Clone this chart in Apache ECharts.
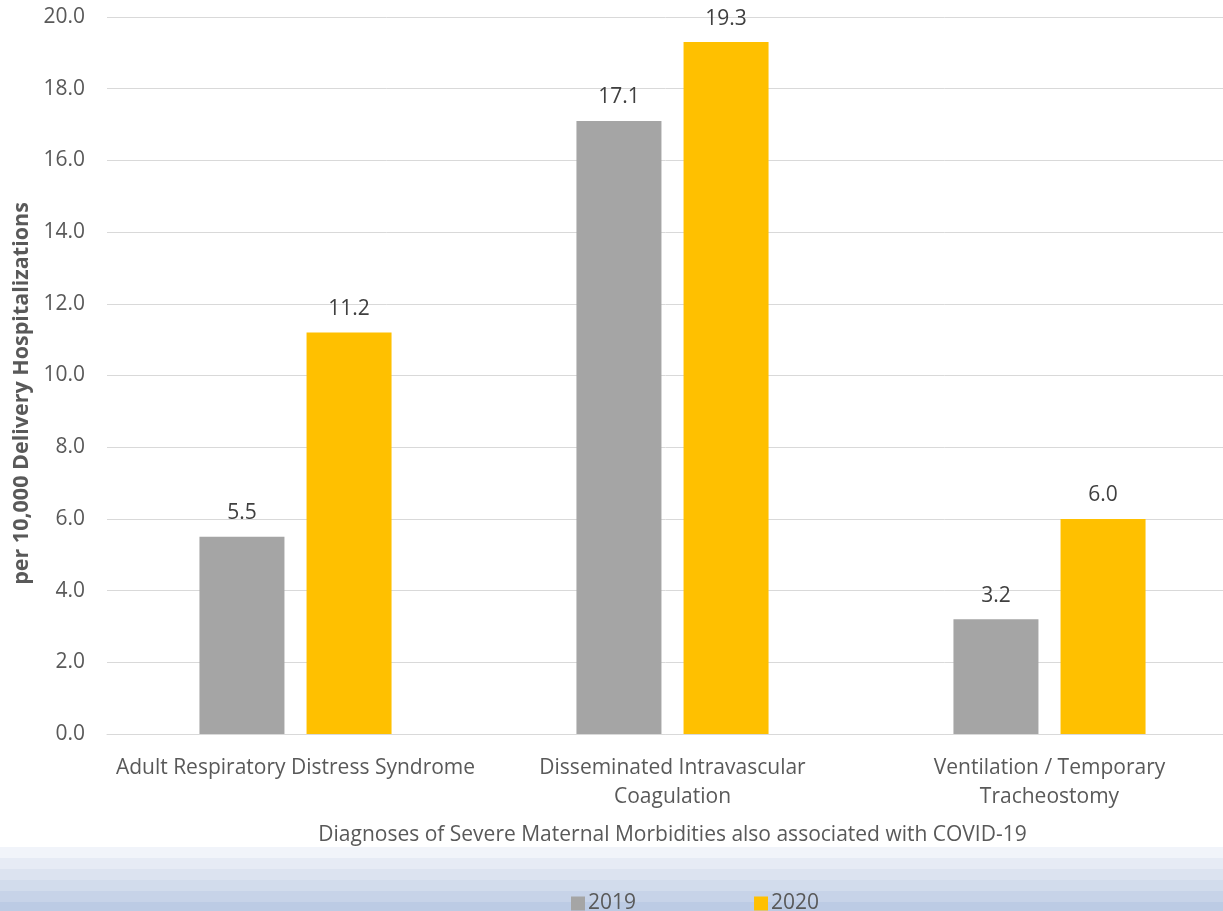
<!DOCTYPE html>
<html>
<head>
<meta charset="utf-8">
<script src="https://cdn.jsdelivr.net/npm/echarts@6/dist/echarts.min.js"></script>
<style>
  html, body { margin: 0; padding: 0; background: #ffffff; }
  #chart { width: 1223px; height: 911px; }
</style>
</head>
<body>
<div id="chart"></div>
<script>
// Severe maternal morbidity diagnoses, rate per 10,000 delivery hospitalizations
const categories = [
  'Adult Respiratory Distress Syndrome',
  'Disseminated Intravascular\nCoagulation',
  'Ventilation / Temporary\nTracheostomy'
];
const values2019 = [5.5, 17.1, 3.2];
const values2020 = [11.2, 19.3, 6.0];
const seriesNames = ['2019', '2020'];

const textColor = '#595959';
const font = '"Open Sans", sans-serif';

// Pale blue horizontal stripes along the bottom of the figure
const stripeColors = ['#f1f4fa', '#e6ebf5', '#dce3f0', '#d2dcec', '#c7d3e8', '#bccbe4'];
const stripeTop = 847, stripeH = 11;
const stripes = stripeColors.map((c, i) => ({
  type: 'rect',
  silent: true,
  z: -10,
  shape: { x: 0, y: stripeTop + i * stripeH, width: 1223, height: i === stripeColors.length - 1 ? 911 - (stripeTop + i * stripeH) : stripeH },
  style: { fill: c }
}));

const chart = echarts.init(document.getElementById('chart'), null, { renderer: 'canvas' });

const labelOpt = {
  show: true,
  position: 'top',
  distance: 13,
  color: '#404040',
  fontSize: 21,
  fontFamily: font,
  formatter: p => p.value.toFixed(1)
};

chart.setOption({
  animation: false,
  backgroundColor: '#ffffff',
  graphic: stripes,
  textStyle: { fontFamily: font },
  grid: { left: 107, top: 17, width: 1131, height: 717, containLabel: false, outerBoundsMode: 'none' },
  legend: {
    data: seriesNames,
    top: 888,
    left: 566,
    itemWidth: 14,
    itemHeight: 14,
    itemGap: 118,
    icon: 'rect',
    textStyle: { color: textColor, fontSize: 21, fontFamily: font, padding: [0, 0, 0, -2] }
  },
  xAxis: {
    type: 'category',
    data: categories,
    name: 'Diagnoses of Severe Maternal Morbidities also associated with COVID-19',
    nameLocation: 'middle',
    nameGap: 91,
    nameTextStyle: { color: textColor, fontSize: 21, fontFamily: font },
    axisLine: { show: true, lineStyle: { color: '#d9d9d9', width: 1 } },
    axisTick: { show: false },
    axisLabel: { color: textColor, fontSize: 21, fontFamily: font, lineHeight: 29, margin: 20, interval: 0 }
  },
  yAxis: {
    type: 'value',
    min: 0,
    max: 20,
    interval: 2,
    name: 'per 10,000 Delivery Hospitalizations',
    nameLocation: 'middle',
    nameGap: 74,
    nameRotate: 90,
    nameTextStyle: { color: textColor, fontSize: 21.5, fontWeight: 'bold', fontFamily: font, padding: [0, 36, 0, 0] },
    axisLine: { show: false },
    axisTick: { show: false },
    axisLabel: { color: textColor, fontSize: 21, fontFamily: font, margin: 22, formatter: v => v.toFixed(1) },
    splitLine: { lineStyle: { color: '#d9d9d9', width: 1 } }
  },
  series: [
    {
      name: seriesNames[0],
      type: 'bar',
      data: values2019,
      barWidth: 85,
      barGap: '26%',
      itemStyle: { color: '#a5a5a5' },
      label: labelOpt
    },
    {
      name: seriesNames[1],
      type: 'bar',
      data: values2020,
      barWidth: 85,
      barGap: '26%',
      itemStyle: { color: '#ffc000' },
      label: labelOpt
    }
  ]
});
</script>
</body>
</html>
